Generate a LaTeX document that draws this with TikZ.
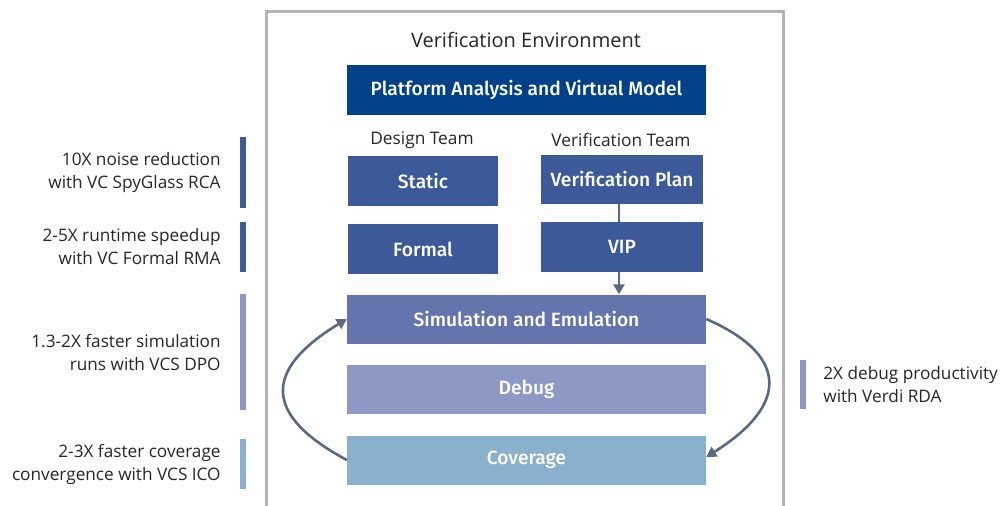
\documentclass[tikz,border=0pt]{standalone}
\usepackage{fontspec}
\setmainfont{Open Sans}
\IfFontExistsTF{Fira Sans Medium}
  {\newfontfamily\boxfont{Fira Sans Medium}}
  {\newfontfamily\boxfont{Liberation Sans}[UprightFont=*Bold]}
\usepackage{tikz}
\usetikzlibrary{positioning,arrows.meta}
\usepackage{xcolor}
\definecolor{platblue}{HTML}{00418A}
\definecolor{teamblue}{HTML}{3C5A9A}
\definecolor{simblue}{HTML}{6475AE}
\definecolor{debugblue}{HTML}{8D98C5}
\definecolor{covblue}{HTML}{89B0CD}
\definecolor{framegray}{HTML}{B4B4B4}
\definecolor{arrowgray}{HTML}{5C6880}

\begin{document}
\begin{tikzpicture}[x=1pt,y=-1pt]
  \tikzset{stagebox/.style={rectangle,inner sep=0pt,minimum height=50pt,text=white,font=\boxfont\fontsize{19.2}{22}\selectfont}}
  \tikzset{notebar/.style={rectangle,inner sep=0pt,minimum width=6pt}}
  \tikzset{notetext/.style={inner sep=0pt,text=black!85,font=\fontsize{17.2}{23}\selectfont}}
  \tikzset{loopedge/.style={draw=arrowgray,line width=2.6pt,-{Triangle[length=10pt,width=11pt]}}}
  \useasboundingbox (0,0) rectangle (1007,506);
  % environment frame, open at the bottom
  \draw[framegray,line width=3pt] (266.5,507) |- (783.5,11.5) -- (783.5,507);
  \node[font=\fontsize{20}{24}\selectfont,text=black!85] (title) at (526,40) {Verification Environment};
  \node[stagebox,fill=platblue,minimum width=359pt] (platform) at (526.5,90) {Platform Analysis and Virtual Model};
  \node[font=\fontsize{17.3}{20}\selectfont,text=black!85] (design) at (422,140) {Design Team};
  \node[font=\fontsize{17.3}{20}\selectfont,text=black!85] (vteam) at (621,140) {Verification Team};
  \node[stagebox,fill=teamblue,minimum width=150pt] (static) at (423,181) {Static};
  \node[stagebox,fill=teamblue,minimum width=150pt] (formal) at (423,249) {Formal};
  \node[stagebox,fill=teamblue,minimum width=162pt,minimum height=49pt] (vplan) at (622,179) {Verification Plan};
  \node[stagebox,fill=teamblue,minimum width=162pt] (vip) at (622,247) {VIP};
  \node[stagebox,fill=simblue,minimum width=359pt,minimum height=49pt] (sim) at (526.5,319) {Simulation and Emulation};
  \node[stagebox,fill=debugblue,minimum width=359pt,minimum height=49pt] (debug) at (526.5,389) {Debug};
  \node[stagebox,fill=covblue,minimum width=359pt,minimum height=49pt] (coverage) at (526.5,460) {Coverage};
  % connectors
  \draw[arrowgray,line width=2.6pt] ([xshift=-3pt]vplan.south) -- ([xshift=-3pt]vip.north);
  \draw[loopedge] ([xshift=-3pt]vip.south) -- ([xshift=-3pt]vip.south |- sim.north);
  \draw[loopedge] (sim.east) .. controls (789,355) and (789,405) .. ([yshift=3pt]coverage.east);
  \draw[loopedge] (coverage.west) .. controls (263,415) and (263,370) .. (sim.west);
  % side notes
  \node[notebar,fill=teamblue,minimum height=71pt] (bar1) at (243,172.5) {};
  \node[notebar,fill=teamblue,minimum height=50pt] (bar2) at (243,247) {};
  \node[notebar,fill=debugblue,minimum height=116pt] (bar3) at (243,352) {};
  \node[notebar,fill=covblue,minimum height=50pt] (bar4) at (243,464) {};
  \node[notebar,fill=debugblue,minimum height=49pt] (bar5) at (803,384.5) {};
  \node[notetext,align=right,left=19pt of bar1] (note1) {10X noise reduction\\with VC SpyGlass RCA};
  \node[notetext,align=right,left=19pt of bar2] (note2) {2-5X runtime speedup\\with VC Formal RMA};
  \node[notetext,align=right,left=19pt of bar3] (note3) {1.3-2X faster simulation\\runs with VCS DPO};
  \node[notetext,align=right,left=19pt of bar4] (note4) {2-3X faster coverage\\convergence with VCS ICO};
  \node[notetext,align=left,right=17pt of bar5] (note5) {2X debug productivity\\with Verdi RDA};
\end{tikzpicture}
\end{document}
